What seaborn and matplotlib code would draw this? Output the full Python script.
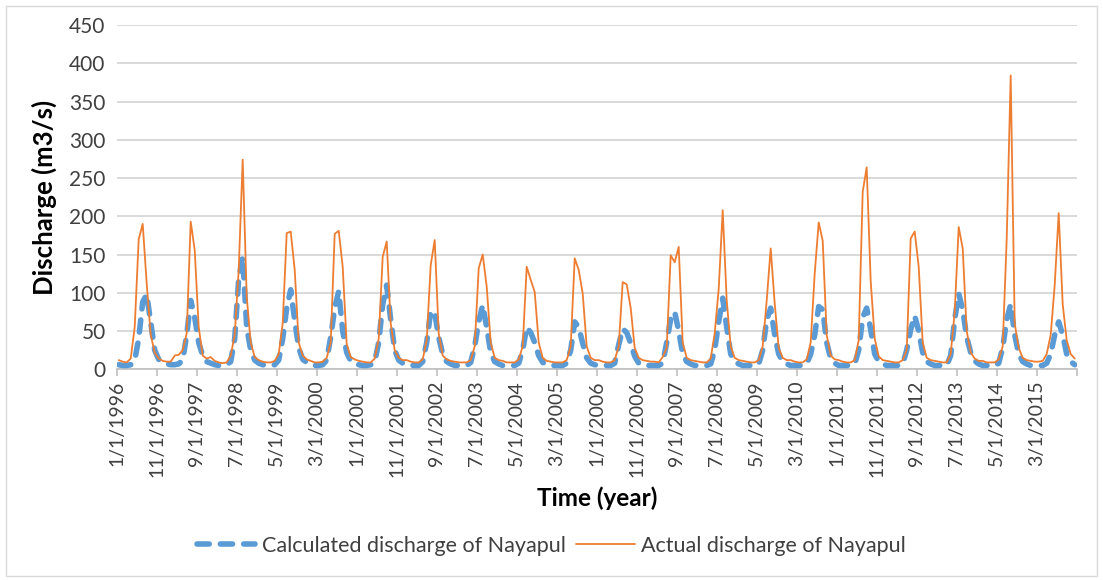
import numpy as np
import pandas as pd
import matplotlib
matplotlib.use("Agg")
import matplotlib.pyplot as plt
import seaborn as sns
from matplotlib.lines import Line2D
from matplotlib.patches import Rectangle

# Monthly discharge (m3/s), Jan 1996 .. Dec 2015, one row per year (Jan..Dec)
actual_discharge = [
    12, 10, 9, 14, 55, 170, 190, 112, 45, 22, 14, 11,      # 1996
    10, 10, 18, 19, 25, 47, 193, 156, 55, 18, 14, 16,      # 1997
    11, 9, 8, 9, 18, 45, 130, 274, 95, 35, 16, 12,         # 1998
    10, 9, 9, 11, 20, 60, 178, 180, 130, 35, 18, 13,       # 1999
    11, 9, 9, 10, 15, 35, 177, 181, 134, 33, 16, 13,       # 2000
    11, 10, 9, 9, 14, 40, 147, 167, 60, 25, 15, 12,        # 2001
    12, 10, 9, 9, 13, 38, 136, 169, 47, 18, 13, 11,        # 2002
    10, 9, 9, 9, 12, 30, 132, 150, 108, 35, 15, 12,        # 2003
    11, 9, 9, 9, 13, 30, 134, 117, 101, 35, 15, 11,        # 2004
    10, 9, 9, 9, 12, 30, 145, 130, 99, 30, 15, 12,         # 2005
    12, 10, 9, 9, 12, 30, 114, 111, 80, 28, 15, 12,        # 2006
    11, 10, 10, 9, 16, 28, 149, 140, 160, 35, 15, 12,      # 2007
    11, 10, 9, 9, 14, 47, 105, 208, 90, 30, 15, 12,        # 2008
    11, 10, 9, 9, 12, 30, 90, 158, 86, 28, 15, 12,         # 2009
    12, 10, 9, 9, 13, 35, 125, 192, 168, 45, 18, 13,       # 2010
    12, 10, 9, 9, 12, 38, 232, 264, 115, 40, 17, 12,       # 2011
    11, 10, 9, 9, 12, 25, 171, 180, 134, 35, 15, 12,       # 2012
    11, 10, 9, 9, 20, 75, 186, 158, 50, 22, 14, 11,        # 2013
    11, 9, 9, 9, 13, 30, 170, 384, 60, 28, 15, 12,         # 2014
    11, 10, 10, 11, 20, 45, 110, 204, 85, 38, 20, 14,      # 2015
]

calculated_discharge = [
    6, 5, 5, 6, 12, 40, 88, 98, 62, 25, 13, 9,             # 1996
    7, 6, 6, 7, 12, 45, 90, 68, 35, 18, 10, 8,             # 1997
    6, 5, 5, 6, 10, 40, 118, 147, 55, 25, 12, 8,           # 1998
    6, 5, 5, 6, 12, 40, 80, 104, 64, 28, 13, 9,            # 1999
    6, 5, 5, 6, 12, 42, 80, 102, 50, 22, 11, 8,            # 2000
    6, 5, 5, 6, 10, 35, 85, 110, 65, 25, 12, 8,            # 2001
    6, 5, 5, 5, 10, 35, 76, 74, 42, 20, 10, 7,             # 2002
    5, 5, 5, 5, 9, 30, 62, 84, 55, 22, 10, 7,              # 2003
    5, 5, 5, 5, 8, 25, 55, 48, 35, 18, 9, 7,               # 2004
    5, 5, 5, 5, 8, 25, 62, 55, 34, 15, 8, 6,               # 2005
    5, 5, 5, 5, 8, 32, 53, 48, 34, 17, 8, 6,               # 2006
    5, 5, 5, 5, 8, 35, 66, 75, 50, 20, 10, 7,              # 2007
    5, 5, 5, 5, 7, 25, 62, 93, 55, 20, 10, 7,              # 2008
    5, 5, 5, 5, 7, 25, 65, 80, 45, 20, 10, 7,              # 2009
    5, 5, 5, 5, 7, 20, 45, 82, 78, 35, 14, 8,              # 2010
    5, 5, 5, 5, 7, 25, 68, 80, 52, 20, 10, 7,              # 2011
    5, 5, 5, 5, 7, 25, 52, 70, 50, 22, 10, 7,              # 2012
    5, 5, 5, 5, 18, 65, 99, 78, 42, 22, 11, 7,             # 2013
    5, 5, 5, 5, 8, 28, 65, 85, 45, 20, 10, 7,              # 2014
    5, 5, 5, 5, 8, 20, 45, 62, 45, 20, 10, 6,              # 2015
]

tick_labels = ["1/1/1996", "11/1/1996", "9/1/1997", "7/1/1998", "5/1/1999",
               "3/1/2000", "1/1/2001", "11/1/2001", "9/1/2002", "7/1/2003",
               "5/1/2004", "3/1/2005", "1/1/2006", "11/1/2006", "9/1/2007",
               "7/1/2008", "5/1/2009", "3/1/2010", "1/1/2011", "11/1/2011",
               "9/1/2012", "7/1/2013", "5/1/2014", "3/1/2015"]

series_names = ["Calculated discharge of Nayapul", "Actual discharge of Nayapul"]

sns.set_theme(style="white")
plt.rcParams["font.family"] = ["Lato", "DejaVu Sans"]

months = np.arange(len(actual_discharge)) + 0.5
df = pd.DataFrame({"month": months,
                   "calc": calculated_discharge,
                   "actual": actual_discharge})

BLUE = "#5B9BD5"
ORANGE = "#ED7D31"
DASH = (0, (2.2, 2.0))

fig = plt.figure(figsize=(11.03, 5.80), dpi=100)
ax = fig.add_axes([116.7 / 1103, 1 - 369.3 / 580, 960 / 1103, (369.3 - 25) / 580])

sns.lineplot(data=df, x="month", y="calc", ax=ax, color=BLUE, lw=4.0,
             linestyle=DASH, dash_capstyle="round", zorder=3)
sns.lineplot(data=df, x="month", y="actual", ax=ax, color=ORANGE, lw=1.3, zorder=4)

ax.set_xlim(0, 240)
ax.set_ylim(0, 450)
ax.set_yticks(np.arange(0, 451, 50))
ax.set_xticks(np.arange(0, 241, 10))
ax.set_xticklabels(tick_labels + [""], rotation=90)
ax.tick_params(axis="x", labelsize=14, colors="#404040", length=5, width=1.2,
               color="#BFBFBF", direction="out", pad=3, bottom=True)
ax.tick_params(axis="y", labelsize=15, colors="#404040", length=0, pad=8)
ax.yaxis.grid(True, color="#D9D9D9", lw=1.4)
ax.xaxis.grid(False)
for side in ["left", "right", "top"]:
    ax.spines[side].set_visible(False)
ax.spines["bottom"].set_color("#BFBFBF")
ax.spines["bottom"].set_linewidth(1.2)
ax.set_axisbelow(True)

ax.set_xlabel("Time (year)", fontsize=17.5, fontweight="bold", color="black", labelpad=7)
ax.set_ylabel("Discharge (m3/s)", fontsize=18.5, fontweight="bold", color="black", labelpad=9)

handles = [Line2D([], [], color=BLUE, lw=4.0, linestyle=DASH, dash_capstyle="round"),
           Line2D([], [], color=ORANGE, lw=1.3)]
fig.legend(handles, series_names, loc="center", bbox_to_anchor=(0.5, 1 - 546 / 580),
           ncol=2, frameon=False, fontsize=15.5, handlelength=2.7, handletextpad=0.3,
           columnspacing=0.5, labelcolor="#404040")

fig.patches.append(Rectangle((6 / 1103, 4 / 580), 1091 / 1103, 570 / 580,
                             transform=fig.transFigure, fill=False,
                             edgecolor="#D9D9D9", lw=1.0))

fig.savefig("out.png", dpi=100, facecolor="white")
